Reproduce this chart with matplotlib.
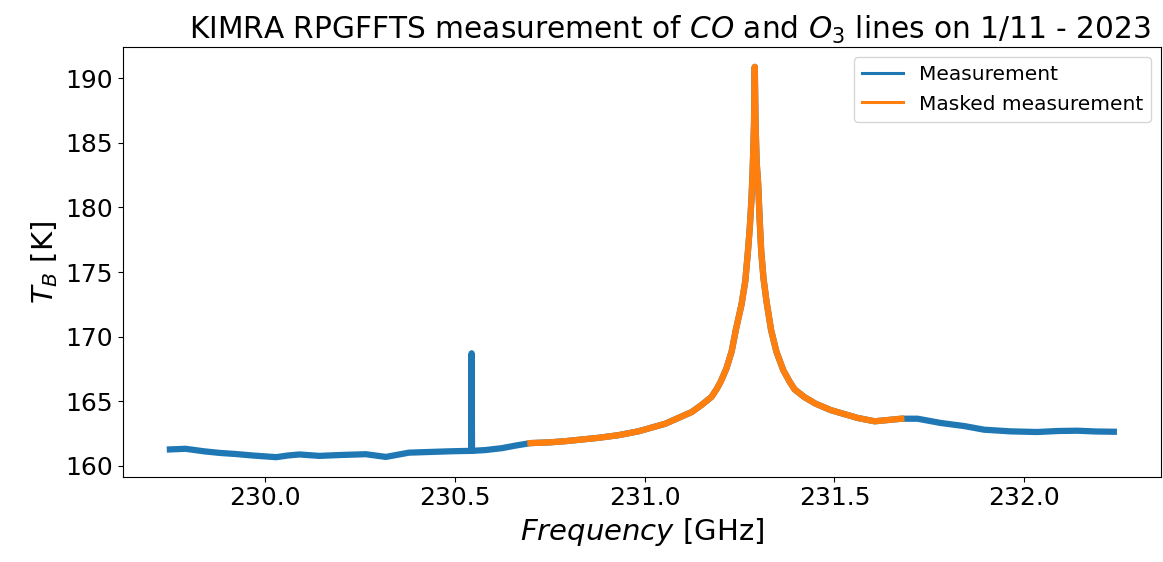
import numpy as np
import matplotlib
matplotlib.use("Agg")
import matplotlib.pyplot as plt

freq = [229.749, 229.79, 229.84, 229.88, 229.92, 229.967, 230.029, 230.06, 230.09,
        230.143, 230.2, 230.265, 230.318, 230.379, 230.43, 230.493, 230.543,
        230.544, 230.545, 230.58, 230.624, 230.66, 230.699, 230.75, 230.791,
        230.878, 230.93, 230.983, 231.054, 231.124, 231.15, 231.176, 231.19,
        231.2, 231.215, 231.229, 231.24, 231.255, 231.265, 231.272, 231.277,
        231.281, 231.284, 231.286, 231.288, 231.29, 231.292, 231.295, 231.299,
        231.303, 231.307, 231.313, 231.321, 231.333, 231.347, 231.365, 231.382,
        231.395, 231.421, 231.45, 231.491, 231.561, 231.606, 231.676, 231.719,
        231.78, 231.842, 231.894, 231.964, 232.034, 232.09, 232.14, 232.19, 232.236]
tb = [161.25, 161.3, 161.1, 160.98, 160.9, 160.78, 160.65, 160.78, 160.86,
      160.75, 160.82, 160.88, 160.67, 161.0, 161.05, 161.11, 161.14,
      168.7, 161.14, 161.2, 161.35, 161.55, 161.74, 161.8, 161.89,
      162.15, 162.35, 162.65, 163.24, 164.15, 164.7, 165.32, 165.95,
      166.49, 167.5, 168.83, 170.5, 172.47, 174.3, 176.6, 178.5,
      180.5, 182.5, 184.4, 186.5, 190.9, 186.5, 183.5, 181.8,
      179.0, 176.6, 174.5, 172.7, 170.5, 168.83, 167.4, 166.49,
      165.9, 165.3, 164.8, 164.29, 163.69, 163.43, 163.63, 163.63,
      163.3, 163.06, 162.78, 162.65, 162.6, 162.68, 162.7, 162.64, 162.62]

mask_lo = 230.699
mask_hi = 231.676

freq = np.array(freq)
tb = np.array(tb)
m = (freq >= mask_lo) & (freq <= mask_hi)

fig = plt.figure(figsize=(11.63, 5.62), dpi=100)
ax = fig.add_axes([0.1055, 0.1518, 0.8928, 0.764])

ax.plot(freq, tb, color='tab:blue', lw=4.5, label='Measurement')
ax.plot(freq[m], tb[m], color='tab:orange', lw=4.5, label='Masked measurement')

ax.set_xticks([230.0, 230.5, 231.0, 231.5, 232.0])
ax.set_yticks([160, 165, 170, 175, 180, 185, 190])
ax.tick_params(labelsize=18)
ax.set_xlabel(r'$Frequency$ [GHz]', fontsize=21)
ax.set_ylabel(r'$T_B$ [K]', fontsize=21)
ax.set_title(r'KIMRA RPGFFTS measurement of $CO$ and $O_3$ lines on 1/11 - 2023',
             fontsize=21.3, x=0.527)

leg = ax.legend(loc='upper right', fontsize=14.5)
for l in leg.get_lines():
    l.set_linewidth(2.2)

fig.savefig('out.png', dpi=100)
